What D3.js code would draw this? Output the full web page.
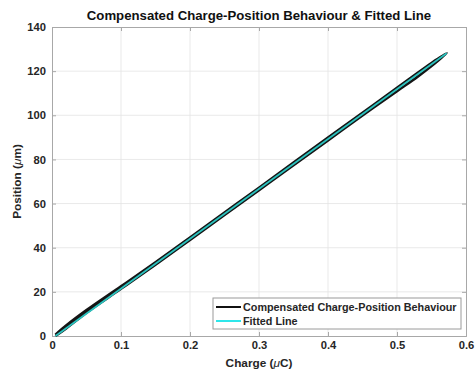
<!DOCTYPE html>
<html><head><meta charset="utf-8">
<script src="https://cdn.jsdelivr.net/npm/d3@7"></script>
<style>
body{margin:0;background:#fff;}
text{font-family:"Liberation Sans",Arial,sans-serif;}
</style></head>
<body><svg id="c" width="475" height="369"></svg>
<script>
// Data
const xTicks = [0, 0.1, 0.2, 0.3, 0.4, 0.5, 0.6];
const xTickLabels = ["0", "0.1", "0.2", "0.3", "0.4", "0.5", "0.6"];
const yTicks = [0, 20, 40, 60, 80, 100, 120, 140];
// Compensated behaviour: loading branch then unloading branch
const measCharge = [0.005,0.02,0.05,0.1,0.15,0.2,0.25,0.3,0.35,0.4,0.45,0.5,0.53,0.55,0.572,
                    0.55,0.52,0.5,0.45,0.4,0.35,0.3,0.25,0.2,0.15,0.1,0.05,0.02,0.005];
const measPos =    [0,3.3,10.6,21.4,32.3,43.5,54.8,66.1,77.4,88.6,99.9,110.9,117.5,122.3,128.1,
                    123.7,117.0,112.5,101.1,89.9,78.6,67.2,55.9,44.6,33.4,22.5,11.7,4.6,0.6];
const fitCharge = [0.005, 0.572];
const fitPos = [0, 128.1];

const svg = d3.select("#c");
const L=52, R=466, T=27, B=336;
const x = d3.scaleLinear().domain([0,0.6]).range([L,R]);
const y = d3.scaleLinear().domain([0,140]).range([B,T]);
const grid="#e3e3e3", axc="#a8a8a8", txt="#262626";

// grid
svg.append("g").selectAll("line").data(xTicks.slice(1,-1)).join("line")
 .attr("x1",d=>x(d)).attr("x2",d=>x(d)).attr("y1",T).attr("y2",B).attr("stroke",grid).attr("stroke-width",0.8);
svg.append("g").selectAll("line").data(yTicks.slice(1,-1)).join("line")
 .attr("y1",d=>y(d)).attr("y2",d=>y(d)).attr("x1",L).attr("x2",R).attr("stroke",grid).attr("stroke-width",0.8);

// axes
const xa = svg.append("g").attr("transform",`translate(0,${B})`)
 .call(d3.axisBottom(x).tickValues(xTicks).tickFormat((d,i)=>xTickLabels[i]).tickSize(-4).tickPadding(5));
const xt = svg.append("g").attr("transform",`translate(0,${T})`)
 .call(d3.axisTop(x).tickValues(xTicks).tickFormat("").tickSize(-4));
const ya = svg.append("g").attr("transform",`translate(${L},0)`)
 .call(d3.axisLeft(y).tickValues(yTicks).tickSize(-4).tickPadding(6));
const yr = svg.append("g").attr("transform",`translate(${R},0)`)
 .call(d3.axisRight(y).tickValues(yTicks).tickFormat("").tickSize(-4));
[xa,xt,ya,yr].forEach(g=>{
  g.select(".domain").attr("stroke",axc).attr("stroke-width",1);
  g.selectAll(".tick line").attr("stroke",axc);
  g.selectAll(".tick text").attr("fill",txt).attr("font-size",11.2).attr("font-weight","bold")
   .attr("font-family","Liberation Sans, Arial, sans-serif");
});

// lines
const meas = measCharge.map((c,i)=>[c,measPos[i]]);
const fit = fitCharge.map((c,i)=>[c,fitPos[i]]);
const lineL = d3.line().x(d=>x(d[0])).y(d=>y(d[1]));
svg.append("path").datum(meas).attr("d",d3.line().x(d=>x(d[0])).y(d=>y(d[1])).curve(d3.curveCatmullRom))
 .attr("fill","none").attr("stroke","#151515").attr("stroke-width",2.6).attr("stroke-linejoin","round");
svg.append("path").datum(fit).attr("d",lineL)
 .attr("fill","none").attr("stroke","#2ac2be").attr("stroke-width",1.8);

// title & labels
svg.append("text").attr("x",(L+R)/2).attr("y",20).attr("text-anchor","middle")
 .attr("font-size",13.2).attr("font-weight","bold").attr("fill","#111")
 .text("Compensated Charge-Position Behaviour & Fitted Line");
const xl = svg.append("text").attr("x",(L+R)/2).attr("y",367).attr("text-anchor","middle")
 .attr("font-size",11.8).attr("font-weight","bold").attr("fill",txt);
xl.append("tspan").text("Charge (");
xl.append("tspan").attr("font-style","italic").attr("font-weight","normal").text("μ");
xl.append("tspan").text("C)");
const yl = svg.append("text").attr("transform",`translate(21,${(T+B)/2}) rotate(-90)`).attr("text-anchor","middle")
 .attr("font-size",11.8).attr("font-weight","bold").attr("fill",txt);
yl.append("tspan").text("Position (");
yl.append("tspan").attr("font-style","italic").attr("font-weight","normal").text("μ");
yl.append("tspan").text("m)");

// legend
const lg = svg.append("g");
lg.append("rect").attr("x",213).attr("y",298).attr("width",248).attr("height",31)
 .attr("fill","#fff").attr("stroke","#9a9a9a").attr("stroke-width",1);
const items=[["Compensated Charge-Position Behaviour","#111"],["Fitted Line","#2ee6ea"]];
items.forEach((it,i)=>{
  const yy=307+i*14;
  lg.append("line").attr("x1",216).attr("x2",241).attr("y1",yy).attr("y2",yy).attr("stroke",it[1]).attr("stroke-width",2);
  lg.append("text").attr("x",243).attr("y",yy+3.8).attr("font-size",10.8).attr("font-weight","bold").attr("fill",txt).text(it[0]);
});
</script></body></html>
